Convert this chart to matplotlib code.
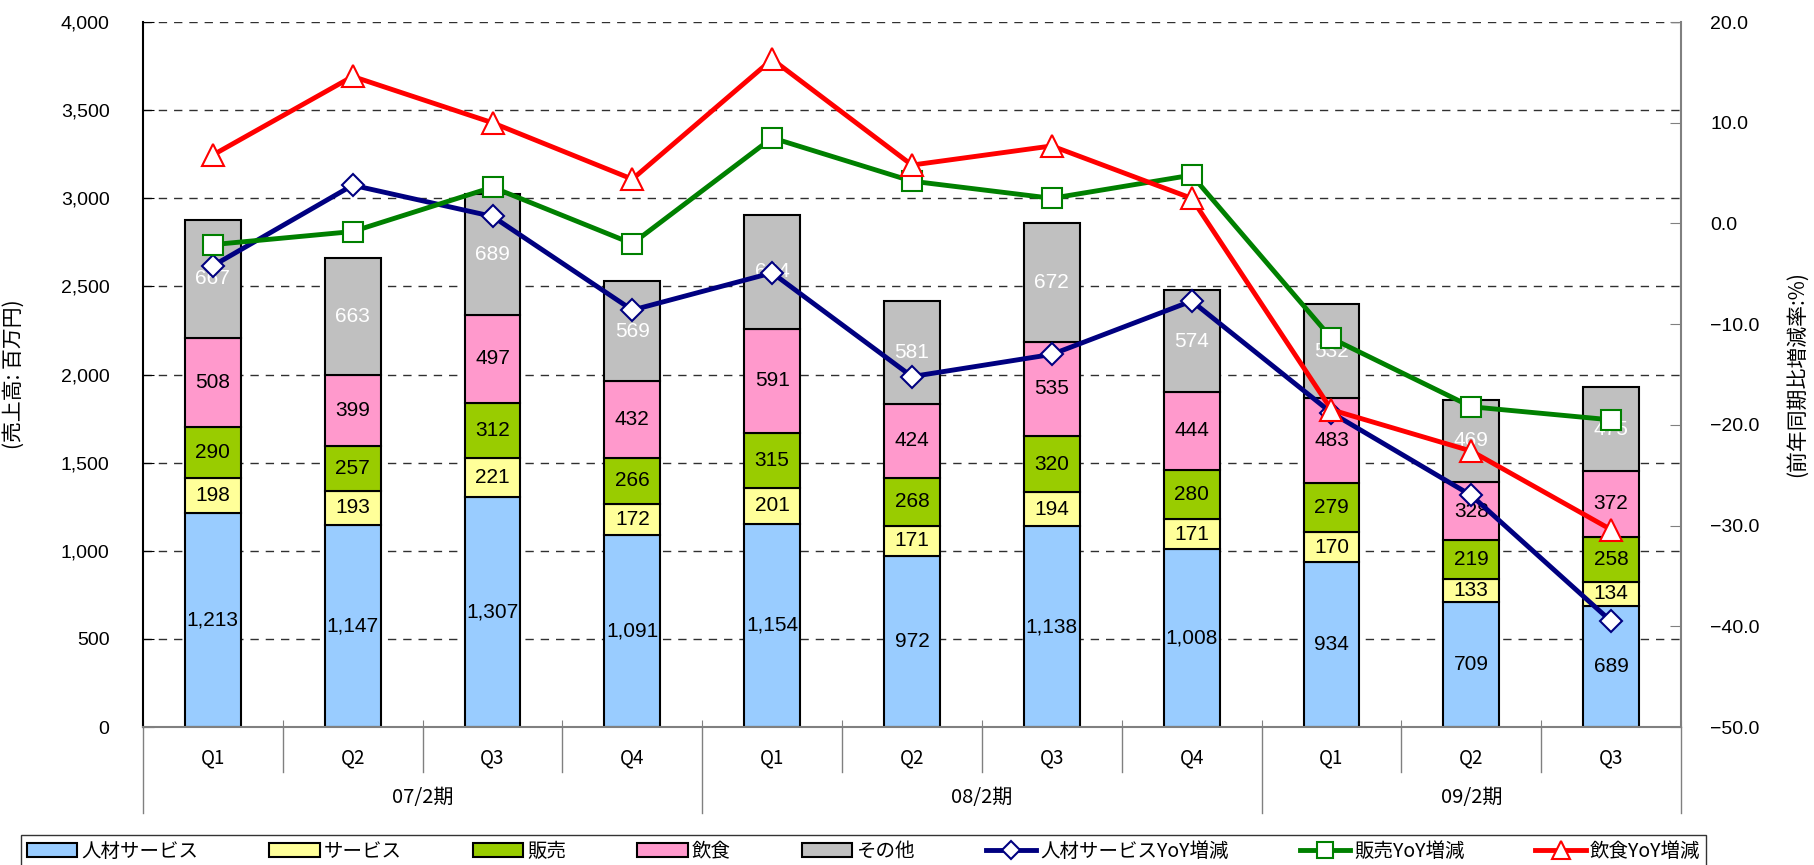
import numpy as np
import matplotlib.pyplot as plt
from matplotlib.ticker import FuncFormatter, MultipleLocator
from matplotlib.transforms import blended_transform_factory
from matplotlib.patches import Patch
from matplotlib.lines import Line2D

plt.rcParams['font.family'] = ['Liberation Sans', 'Noto Sans CJK JP']
JP = ['Noto Sans CJK JP', 'DejaVu Sans']

quarters = ['Q1', 'Q2', 'Q3', 'Q4', 'Q1', 'Q2', 'Q3', 'Q4', 'Q1', 'Q2', 'Q3']
periods = ['07/2期', '08/2期', '09/2期']
period_sizes = [4, 4, 3]

# sales by segment (百万円)
segments = ['人材サービス', 'サービス', '販売', '飲食', 'その他']
jinzai = [1213, 1147, 1307, 1091, 1154, 972, 1138, 1008, 934, 709, 689]
service = [198, 193, 221, 172, 201, 171, 194, 171, 170, 133, 134]
hanbai = [290, 257, 312, 266, 315, 268, 320, 280, 279, 219, 258]
inshoku = [508, 399, 497, 432, 591, 424, 535, 444, 483, 328, 372]
sonota = [667, 663, 689, 569, 644, 581, 672, 574, 532, 469, 475]

# YoY change (%)
yoy_names = ['人材サービスYoY増減', '販売YoY増減', '飲食YoY増減']
yoy_jinzai = [-4.2, 3.8, 0.7, -8.6, -4.9, -15.2, -13.0, -7.7, -18.8, -27.0, -39.5]
yoy_hanbai = [-2.1, -0.8, 3.6, -2.0, 8.5, 4.2, 2.5, 4.8, -11.4, -18.2, -19.5]
yoy_inshoku = [6.8, 14.6, 10.0, 4.4, 16.3, 5.8, 7.7, 2.5, -18.5, -22.6, -30.4]

seg_colors = ['#99CCFF', '#FFFF99', '#99CC00', '#FF99CC', '#C0C0C0']
label_colors = ['black', 'black', 'black', 'black', 'white']

fig = plt.figure(figsize=(18.14, 8.65), dpi=100)
ax = fig.add_axes([0.0788, 0.1595, 0.8479, 0.8150])
ax2 = ax.twinx()

x = np.arange(len(quarters))
bottom = np.zeros(len(quarters))
for name, vals, c, lc in zip(segments, [jinzai, service, hanbai, inshoku, sonota], seg_colors, label_colors):
    bars = ax.bar(x, vals, 0.4, bottom=bottom, color=c, edgecolor='black', linewidth=1.5, label=name, zorder=2)
    ax.bar_label(bars, labels=[f'{v:,}' for v in vals], label_type='center', fontsize=15, color=lc, zorder=3)
    bottom += np.array(vals)

ax.set_xlim(-0.5, len(quarters) - 0.5)
ax.set_ylim(0, 4000)
ax.yaxis.set_major_locator(MultipleLocator(500))
ax.yaxis.set_major_formatter(FuncFormatter(lambda v, p: f'{v:,.0f}'))
ax.yaxis.grid(True, linestyle=(0, (6, 5)), color='#303030', linewidth=1)
ax.set_axisbelow(True)
ax.tick_params(axis='y', direction='in', length=8, pad=24, labelsize=14)
ax.set_xticks(np.arange(-0.5, len(quarters), 1))
ax.set_xticklabels([])
ax.tick_params(axis='x', direction='in', length=5, color='#808080')
for s in ['top', 'right']:
    ax.spines[s].set_visible(False)
ax.spines['left'].set_linewidth(1.5)
ax.spines['bottom'].set_color('#808080')
ax.spines['bottom'].set_linewidth(1.5)

# two-level category axis
trans = blended_transform_factory(ax.transData, ax.transAxes)
for i, q in enumerate(quarters):
    ax.text(i, -0.044, q, transform=trans, ha='center', va='center', fontsize=13.5, family=JP)
group_edges = np.cumsum([0] + period_sizes) - 0.5
for b in np.arange(-0.5, len(quarters), 1):
    depth = -0.122 if b in group_edges else -0.064
    ax.plot([b, b], [0, depth], transform=trans, color='#808080', lw=1, clip_on=False)
for p, lo, hi in zip(periods, group_edges[:-1], group_edges[1:]):
    ax.text((lo + hi) / 2, -0.10, p, transform=trans, ha='center', va='center', fontsize=14.5, family=JP)

# YoY lines
ax2.plot(x, yoy_jinzai, color='#000080', lw=3.5, marker='D', ms=11, mfc='white', mec='#000080', mew=1.5, zorder=3)
ax2.plot(x, yoy_hanbai, color='#008000', lw=3.5, marker='s', ms=15, mfc='white', mec='#008000', mew=1.5, zorder=4)
ax2.plot(x, yoy_inshoku, color='#FF0000', lw=3.5, marker='^', ms=16, mfc='white', mec='#FF0000', mew=1.5, zorder=5)
ax2.set_ylim(-50, 20)
ax2.yaxis.set_major_locator(MultipleLocator(10))
ax2.yaxis.set_major_formatter(FuncFormatter(lambda v, p: f'{v:.1f}'.replace('-', '\u2212')))
ax2.tick_params(axis='y', direction='in', length=8, pad=21, labelsize=14, color='#808080')
for s in ['top', 'left', 'bottom']:
    ax2.spines[s].set_visible(False)
ax2.spines['right'].set_color('#808080')
ax2.spines['right'].set_linewidth(1.5)

fig.text(0.0077, 0.567, '(売上高: 百万円)', rotation=90, ha='center', va='center', fontsize=15, family=JP)
fig.text(0.9906, 0.567, '(前年同期比増減率:%)', rotation=90, ha='center', va='center', fontsize=15, family=JP)

handles = [Patch(facecolor=c, edgecolor='black', linewidth=1.5) for c in seg_colors]
handles += [
    Line2D([], [], color='#000080', lw=3.5, marker='D', ms=9, mfc='white', mec='#000080', mew=1.5),
    Line2D([], [], color='#008000', lw=3.5, marker='s', ms=12, mfc='white', mec='#008000', mew=1.5),
    Line2D([], [], color='#FF0000', lw=3.5, marker='^', ms=13, mfc='white', mec='#FF0000', mew=1.5),
]
leg = fig.legend(handles, segments + yoy_names, loc='upper left', bbox_to_anchor=(0.0116, 0.0347, 0.929, 0.0),
                 mode='expand', ncol=8, fancybox=False, edgecolor='black', borderaxespad=0, borderpad=0.3,
                 handlelength=2.6, handleheight=0.8, handletextpad=0.2, columnspacing=0.8,
                 prop={'family': JP, 'size': 14})
leg.get_frame().set_linewidth(1)

fig.savefig('out.png', dpi=100)
